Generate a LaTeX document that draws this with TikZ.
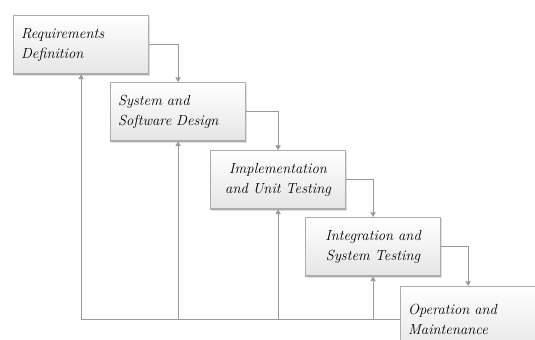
\documentclass[tikz,border=0pt]{standalone}
\usetikzlibrary{arrows.meta,shadows}
\begin{document}
\begin{tikzpicture}[
        phase/.style={draw=gray!65, line width=1pt, top color=white, bottom color=gray!20,
            drop shadow={opacity=0.25,shadow xshift=1.5pt,shadow yshift=-1.5pt},
            minimum width=4.05cm, minimum height=1.75cm, anchor=north west,
            text width=3.6cm, align=left, font=\fontsize{12.5}{17}\selectfont\itshape},
        flow/.style={draw=gray!80, line width=0.8pt, -{Triangle[width=4.5pt,length=4pt]}}]
        \useasboundingbox (0,0) rectangle (16.05,-10.2);
        \clip (0,0) rectangle (16.05,-10.2);
        \node[phase] (req) at (0.39,-0.45) {Requirements\\Definition};
        \node[phase] (sys) at (3.3,-2.46) {System and\\Software Design};
        \node[phase, align=center] (imp) at (6.3,-4.5) {Implementation\\and Unit Testing};
        \node[phase, align=center] (int) at (9.15,-6.51) {Integration and\\System Testing};
        \node[phase, minimum height=1.95cm] (ops) at (12.0,-8.58) {Operation and\\Maintenance};
        % waterfall down
        \draw[flow] (req.east) -| (sys.north);
        \draw[flow] (sys.east) -| (imp.north);
        \draw[flow] (imp.east) -| (int.north);
        \draw[flow] (int.east) -| (ops.north);
        % feedback back up
        \draw[flow] (ops.west) -| (req.south);
        \draw[flow] (ops.west -| sys.south) -- (sys.south);
        \draw[flow] (ops.west -| imp.south) -- (imp.south);
        \draw[flow] (ops.west -| int.south) -- (int.south);
    \end{tikzpicture}
\end{document}
